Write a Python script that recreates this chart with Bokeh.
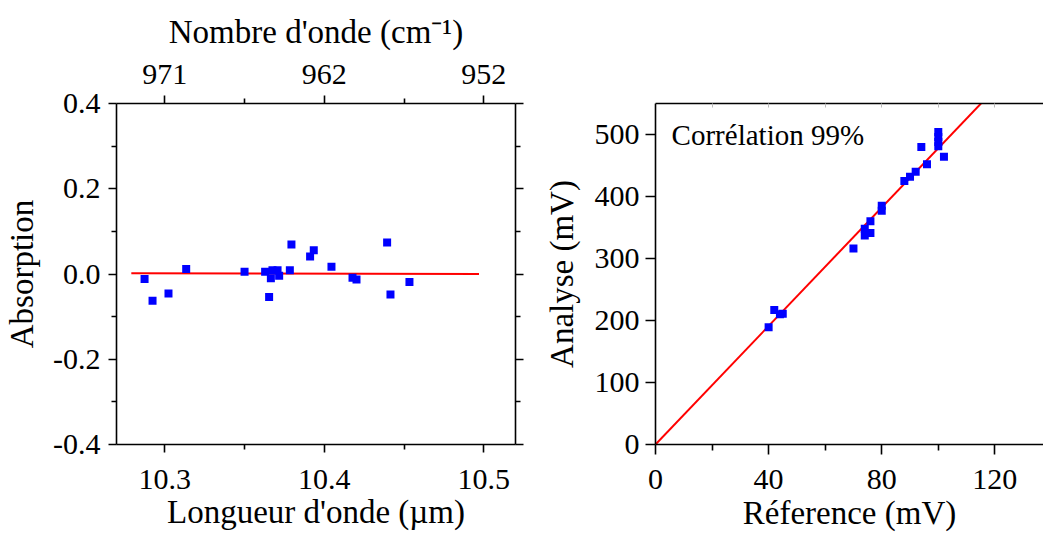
from bokeh.plotting import figure
from bokeh.layouts import row
from bokeh.models import LinearAxis, FixedTicker, Range1d, Label
from bokeh.embed import file_html
from bokeh.resources import INLINE

# ---------------- data ----------------
wavelength_um = [10.2873, 10.2923, 10.3023, 10.3134, 10.3500, 10.3629, 10.3654,
                 10.3665, 10.3675, 10.3707, 10.3717, 10.3784, 10.3794, 10.3911,
                 10.3934, 10.4045, 10.4177, 10.4202, 10.4394, 10.4415, 10.4534]
absorption = [-0.012, -0.063, -0.046, 0.012, 0.005, 0.005, -0.054,
              -0.010, 0.009, 0.009, -0.004, 0.009, 0.069, 0.041,
              0.056, 0.017, -0.009, -0.013, 0.074, -0.048, -0.019]
fit_wavelength = [10.279, 10.497]
fit_absorption = [0.0017, 0.0]

reference_mv = [40, 42, 44, 45, 70, 74, 74, 76, 76, 80, 80,
                88, 90, 92, 96, 94, 100, 100, 100, 100, 102]
analyse_mv = [189, 217, 210, 211, 316, 337, 348, 341, 360, 377, 385,
              425, 432, 440, 452, 480, 504, 496, 488, 481, 464]
fit_reference = [0, 140]
fit_analyse = [0, 669]

wl_ticks = [10.3, 10.4, 10.5]
wl_minor = [10.35, 10.45]
wl_labels = ["10.3", "10.4", "10.5"]
wn_labels = ["971", "962", "952"]
abs_ticks = [-0.4, -0.2, 0.0, 0.2, 0.4]
abs_minor = [-0.3, -0.1, 0.1, 0.3]
abs_labels = ["-0.4", "-0.2", "0.0", "0.2", "0.4"]
ref_ticks = [0, 40, 80, 120]
ref_minor = [20, 60, 100]
ana_ticks = [0, 100, 200, 300, 400, 500]

FONT = "Liberation Serif"
TICK_FS = "30px"
LABEL_FS = "33px"


def style_axis(ax):
    ax.axis_line_width = 1.6
    ax.axis_line_color = "black"
    ax.major_tick_line_width = 1.6
    ax.minor_tick_line_width = 1.6
    ax.major_tick_line_color = "black"
    ax.minor_tick_line_color = "black"
    ax.major_tick_in = 0
    ax.minor_tick_in = 0
    ax.major_tick_out = 8
    ax.minor_tick_out = 5
    ax.major_label_text_font = FONT
    ax.major_label_text_font_size = TICK_FS
    ax.major_label_text_color = "black"
    ax.axis_label_text_font = FONT
    ax.axis_label_text_font_size = LABEL_FS
    ax.axis_label_text_font_style = "normal"
    ax.axis_label_text_color = "black"


def blank_labels(ax, ticks):
    ax.major_label_overrides = {t: "" for t in ticks}


# ---------------- left figure ----------------
p1 = figure(width=530, height=533, output_backend="svg", toolbar_location=None,
            x_range=Range1d(10.2697, 10.5199), y_range=Range1d(-0.4, 0.4),
            x_axis_location=None, y_axis_location=None,
            min_border_left=116, min_border_right=15,
            min_border_top=103, min_border_bottom=83)
p1.outline_line_color = None
p1.grid.visible = False

wl_ticker = FixedTicker(ticks=wl_ticks, minor_ticks=wl_minor)
abs_ticker = FixedTicker(ticks=abs_ticks, minor_ticks=abs_minor)

bx = LinearAxis(ticker=wl_ticker, axis_label="Longueur d'onde (µm)")
bx.major_label_overrides = dict(zip(wl_ticks, wl_labels))
style_axis(bx)
bx.major_label_standoff = 17
bx.axis_label_standoff = 2
p1.add_layout(bx, "below")

tx = LinearAxis(ticker=wl_ticker, axis_label="Nombre d'onde (cm⁻¹)")
tx.major_label_overrides = dict(zip(wl_ticks, wn_labels))
style_axis(tx)
tx.major_label_standoff = 12
tx.axis_label_standoff = 12
p1.add_layout(tx, "above")

ly = LinearAxis(ticker=abs_ticker, axis_label="Absorption")
ly.major_label_overrides = dict(zip(abs_ticks, abs_labels))
style_axis(ly)
ly.major_label_standoff = 8
ly.axis_label_standoff = 10
p1.add_layout(ly, "left")

ry = LinearAxis(ticker=abs_ticker)
style_axis(ry)
blank_labels(ry, abs_ticks)
p1.add_layout(ry, "right")

p1.line(fit_wavelength, fit_absorption, line_color="red", line_width=2)
p1.scatter(wavelength_um, absorption, marker="square", size=8,
           fill_color="#0000ff", line_color=None)

# ---------------- right figure ----------------
p2 = figure(width=513, height=533, output_backend="svg", toolbar_location=None,
            x_range=Range1d(0, 137.2), y_range=Range1d(0, 550),
            x_axis_location=None, y_axis_location=None,
            min_border_left=125, min_border_right=0,
            min_border_top=101, min_border_bottom=84)
p2.outline_line_color = None
p2.grid.visible = False

bx2 = LinearAxis(ticker=FixedTicker(ticks=ref_ticks, minor_ticks=ref_minor),
                 axis_label="Réference (mV)")
style_axis(bx2)
bx2.major_tick_out = 10
bx2.minor_tick_out = 6
bx2.major_label_standoff = 15
bx2.axis_label_standoff = 3
p2.add_layout(bx2, "below")

ly2 = LinearAxis(ticker=FixedTicker(ticks=ana_ticks, minor_ticks=[]),
                 axis_label="Analyse (mV)")
style_axis(ly2)
ly2.major_tick_out = 10
ly2.major_label_standoff = 6
ly2.axis_label_standoff = 12
p2.add_layout(ly2, "left")

top_ticks = ref_ticks + ref_minor
tx2 = LinearAxis(ticker=FixedTicker(ticks=top_ticks, minor_ticks=[]))
style_axis(tx2)
blank_labels(tx2, top_ticks)
tx2.major_tick_out = 0
tx2.major_tick_in = 4
tx2.major_tick_line_color = "#bbbbbb"
tx2.major_tick_line_width = 1
p2.add_layout(tx2, "above")

p2.line(fit_reference, fit_analyse, line_color="red", line_width=2)
p2.scatter(reference_mv, analyse_mv, marker="square", size=8,
           fill_color="#0000ff", line_color=None)

p2.add_layout(Label(x=5.7, y=499, text="Corrélation 99%", text_font=FONT,
                    text_font_size="29px", text_color="black",
                    text_baseline="alphabetic"))

layout = row(p1, p2)
open("out.html", "w").write(file_html(layout, INLINE))
